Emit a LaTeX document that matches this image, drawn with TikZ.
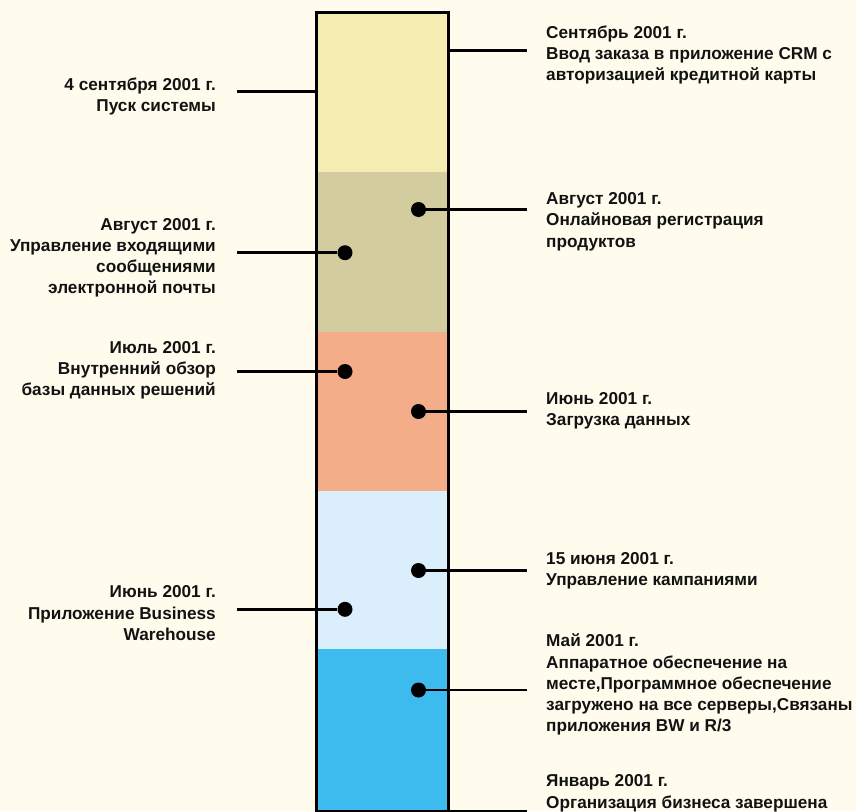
\documentclass[tikz,border=0pt]{standalone}
\usepackage{fontspec}
\setmainfont{Liberation Sans}
\definecolor{paper}{HTML}{FFFCEE}
\definecolor{segsep}{HTML}{F5ECB1}
\definecolor{segaug}{HTML}{D3CC9F}
\definecolor{segjul}{HTML}{F4AD89}
\definecolor{segjun}{HTML}{DBEEFB}
\definecolor{segmay}{HTML}{3EBBEE}
\newcommand{\evtext}[2]{\begin{tabular}[t]{@{}#1@{}}#2\end{tabular}}
\begin{document}
\begin{tikzpicture}[x=1pt,y=-1pt,
  evlabel/.style={inner sep=0pt, text=black!93, font=\bfseries\fontsize{17.2}{21.3}\selectfont},
  leftlabel/.style={evlabel, anchor=base east},
  rightlabel/.style={evlabel, anchor=base west},
  evdot/.style={circle, fill=black, inner sep=0pt, minimum size=15pt},
  link/.style={draw=black, line width=2.6pt},
  border/.style={draw=black, line width=3pt}]

% page
\fill[paper] (0,0) rectangle (856,811);
\useasboundingbox (0,0) rectangle (856,811);

% coloured periods of the time bar
\fill[segsep] (316.7,12.7)  rectangle (448.3,171.7);
\fill[segaug] (316.7,171.7) rectangle (448.3,332);
\fill[segjul] (316.7,332)   rectangle (448.3,491);
\fill[segjun] (316.7,491)   rectangle (448.3,649);
\fill[segmay] (316.7,649)   rectangle (448.3,811);
\draw[border] (316.7,12.7) rectangle (448.3,811.3);

% event markers
\node[evdot] (d2r) at (418.5,209.5) {};
\node[evdot] (d2l) at (345,252.7) {};
\node[evdot] (d3l) at (345,371.5) {};
\node[evdot] (d3r) at (418.5,411.5) {};
\node[evdot] (d4r) at (418.5,570.5) {};
\node[evdot] (d4l) at (345,609.3) {};
\node[evdot] (d5r) at (418.5,690) {};

% line ends
\coordinate (e1l) at (236.7,91.5);
\coordinate (b1l) at (316.7,91.5);
\coordinate (b1r) at (448.3,50.5);
\coordinate (e1r) at (527,50.5);
\coordinate (e2r) at (527,209.5);
\coordinate (e2l) at (236.7,252.7);
\coordinate (e3l) at (236.7,371.5);
\coordinate (e3r) at (527,411.5);
\coordinate (e4r) at (527,570.5);
\coordinate (e4l) at (236.7,609.3);
\coordinate (e5r) at (527,690);
\coordinate (b6r) at (417,811);
\coordinate (e6r) at (527,811);

% connectors
\draw[link] (e1l) -- (b1l);
\draw[link] (b1r) -- (e1r);
\draw[link] (d2r) -- (e2r);
\draw[link] (e2l) -- (d2l);
\draw[link] (e3l) -- (d3l);
\draw[link] (d3r) -- (e3r);
\draw[link] (d4r) -- (e4r);
\draw[link] (e4l) -- (d4l);
\draw[link] (d5r) -- (e5r);
\draw[link] (b6r) -- (e6r);

% labels, left side
\node[leftlabel] (t1l) at (216,90) {\evtext{r}{4 сентября 2001 г.\\Пуск системы}};
\node[leftlabel] (t2l) at (216,230) {\evtext{r}{Август 2001 г.\\Управление входящими\\сообщениями\\электронной почты}};
\node[leftlabel] (t3l) at (216,353) {\evtext{r}{Июль 2001 г.\\Внутренний обзор\\базы данных решений}};
\node[leftlabel] (t4l) at (216,597.7) {\evtext{r}{Июнь 2001 г.\\Приложение Business\\Warehouse}};

% labels, right side
\node[rightlabel] (t1r) at (546,38) {\evtext{l}{Сентябрь 2001 г.\\Ввод заказа в приложение CRM с\\авторизацией кредитной карты}};
\node[rightlabel] (t2r) at (546,204.5) {\evtext{l}{Август 2001 г.\\Онлайновая регистрация\\продуктов}};
\node[rightlabel] (t3r) at (546,404) {\evtext{l}{Июнь 2001 г.\\Загрузка данных}};
\node[rightlabel] (t4r) at (546,564) {\evtext{l}{15 июня 2001 г.\\Управление кампаниями}};
\node[rightlabel] (t5r) at (546,646.7) {\evtext{l}{Май 2001 г.\\Аппаратное обеспечение на\\месте,Программное обеспечение\\загружено на все серверы,Связаны\\приложения BW и R/3}};
\node[rightlabel] (t6r) at (546,786.7) {\evtext{l}{Январь 2001 г.\\Организация бизнеса завершена}};
\end{tikzpicture}
\end{document}
